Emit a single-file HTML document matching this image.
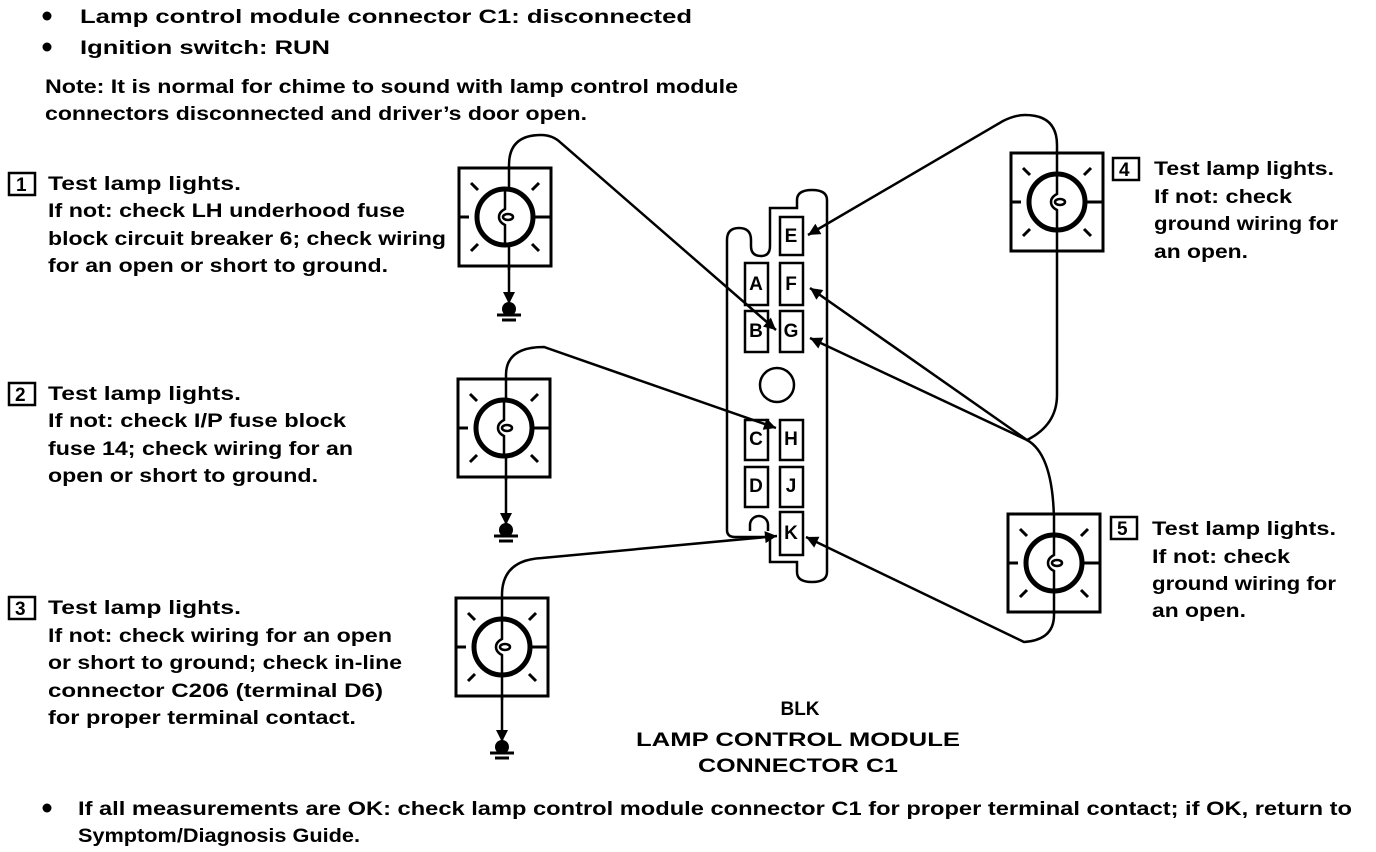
<!DOCTYPE html>
<html><head><meta charset="utf-8"><style>
html,body{margin:0;padding:0;background:#fff;}
svg{display:block;}
text{font-family:"Liberation Sans",sans-serif;font-weight:bold;font-size:19px;fill:#000;}
</style></head><body>
<svg width="1376" height="852" viewBox="0 0 1376 852" xmlns="http://www.w3.org/2000/svg">
<defs>
<marker id="ar" viewBox="0 0 10 10" refX="10" refY="5" markerWidth="16" markerHeight="12" markerUnits="userSpaceOnUse" orient="auto">
<path d="M0,0 L10,5 L0,10 z" fill="#000"/></marker>
<g id="lamp">
<rect x="-46" y="-49" width="92" height="98" fill="#fff" stroke="#000" stroke-width="3"/>
<circle cx="0" cy="0" r="28" fill="none" stroke="#000" stroke-width="5"/>
<path d="M-46,0 H-36 M28,0 H46 M-34,-34 L-27,-27 M34,-34 L27,-27 M-34,34 L-27,27 M34,34 L27,27" stroke="#000" stroke-width="3"/>
<path d="M0,-28 V-8 q-6,3 -6,8 q0,5 6,8 V28" fill="none" stroke="#000" stroke-width="2.5"/>
<ellipse cx="3" cy="0" rx="5" ry="3" fill="none" stroke="#000" stroke-width="2.5"/>
</g>
<g id="gnd">
<circle cx="0" cy="0" r="7" fill="#000"/>
<path d="M-12,6 H12 M-7,11 H7" stroke="#000" stroke-width="3"/>
</g>
</defs>

<circle cx="47" cy="16" r="4.5"/>
<text x="80" y="23" textLength="612" lengthAdjust="spacingAndGlyphs">Lamp control module connector C1: disconnected</text>
<circle cx="47" cy="47" r="4.5"/>
<text x="80" y="54" textLength="250" lengthAdjust="spacingAndGlyphs">Ignition switch: RUN</text>
<text x="45" y="93" textLength="693" lengthAdjust="spacingAndGlyphs">Note: It is normal for chime to sound with lamp control module</text>
<text x="45" y="120" textLength="542" lengthAdjust="spacingAndGlyphs">connectors disconnected and driver’s door open.</text>

<rect x="9" y="173" width="26" height="22" fill="none" stroke="#000" stroke-width="2.5"/>
<text x="16" y="191" font-size="17">1</text>
<text x="48" y="190" textLength="193" lengthAdjust="spacingAndGlyphs">Test lamp lights.</text>
<text x="48" y="217" textLength="357" lengthAdjust="spacingAndGlyphs">If not: check LH underhood fuse</text>
<text x="48" y="245" textLength="398" lengthAdjust="spacingAndGlyphs">block circuit breaker 6; check wiring</text>
<text x="48" y="272" textLength="340" lengthAdjust="spacingAndGlyphs">for an open or short to ground.</text>

<rect x="9" y="383" width="26" height="22" fill="none" stroke="#000" stroke-width="2.5"/>
<text x="15" y="401" font-size="17">2</text>
<text x="48" y="400" textLength="193" lengthAdjust="spacingAndGlyphs">Test lamp lights.</text>
<text x="48" y="427" textLength="298" lengthAdjust="spacingAndGlyphs">If not: check I/P fuse block</text>
<text x="48" y="455" textLength="305" lengthAdjust="spacingAndGlyphs">fuse 14; check wiring for an</text>
<text x="48" y="482" textLength="270" lengthAdjust="spacingAndGlyphs">open or short to ground.</text>

<rect x="9" y="597" width="26" height="22" fill="none" stroke="#000" stroke-width="2.5"/>
<text x="15" y="615" font-size="17">3</text>
<text x="48" y="614" textLength="193" lengthAdjust="spacingAndGlyphs">Test lamp lights.</text>
<text x="48" y="642" textLength="344" lengthAdjust="spacingAndGlyphs">If not: check wiring for an open</text>
<text x="48" y="669" textLength="354" lengthAdjust="spacingAndGlyphs">or short to ground; check in-line</text>
<text x="48" y="697" textLength="335" lengthAdjust="spacingAndGlyphs">connector C206 (terminal D6)</text>
<text x="48" y="724" textLength="308" lengthAdjust="spacingAndGlyphs">for proper terminal contact.</text>

<rect x="1113" y="158" width="26" height="22" fill="none" stroke="#000" stroke-width="2.5"/>
<text x="1119" y="176" font-size="17">4</text>
<text x="1154" y="175" textLength="180" lengthAdjust="spacingAndGlyphs">Test lamp lights.</text>
<text x="1154" y="203" textLength="138" lengthAdjust="spacingAndGlyphs">If not: check</text>
<text x="1154" y="230" textLength="184" lengthAdjust="spacingAndGlyphs">ground wiring for</text>
<text x="1154" y="258" textLength="94" lengthAdjust="spacingAndGlyphs">an open.</text>

<rect x="1111" y="517" width="26" height="22" fill="none" stroke="#000" stroke-width="2.5"/>
<text x="1117" y="535" font-size="17">5</text>
<text x="1152" y="535" textLength="184" lengthAdjust="spacingAndGlyphs">Test lamp lights.</text>
<text x="1152" y="563" textLength="138" lengthAdjust="spacingAndGlyphs">If not: check</text>
<text x="1152" y="590" textLength="184" lengthAdjust="spacingAndGlyphs">ground wiring for</text>
<text x="1152" y="617" textLength="94" lengthAdjust="spacingAndGlyphs">an open.</text>

<path d="M727,530 V240 q0,-12 12,-12 q12,0 12,12 V246 q0,10 10,10 q9,0 9,-10 V208 H797 V200 q0,-10 15,-10 q15,0 15,10 V572 q0,10 -15,10 q-15,0 -15,-10 V562 H770 V537 H735 q-8,0 -8,-7 z" fill="#fff" stroke="#000" stroke-width="2.5"/>
<g fill="#fff" stroke="#000" stroke-width="2.5">
<rect x="780" y="217" width="23" height="38"/>
<rect x="780" y="263" width="23" height="42"/>
<rect x="780" y="311" width="23" height="41"/>
<rect x="745" y="263" width="23" height="42"/>
<rect x="745" y="311" width="23" height="41"/>
<rect x="745" y="420" width="23" height="40"/>
<rect x="780" y="420" width="23" height="40"/>
<rect x="745" y="467" width="23" height="40"/>
<rect x="780" y="467" width="23" height="40"/>
<rect x="780" y="512" width="23" height="43"/>
<circle cx="777" cy="385" r="17"/>
</g>
<path d="M750,531 v-6 a9,9 0 0 1 18,0 v6" fill="none" stroke="#000" stroke-width="2.5"/>
<g font-size="15" text-anchor="middle">
<text x="791" y="242">E</text><text x="791" y="290">F</text><text x="791" y="337">G</text>
<text x="756" y="290">A</text><text x="756" y="337">B</text>
<text x="756" y="445">C</text><text x="791" y="445">H</text>
<text x="756" y="492">D</text><text x="791" y="492">J</text>
<text x="791" y="539">K</text>
</g>

<g fill="none" stroke="#000" stroke-width="2.5">
<path d="M509,217 V165 q0,-30 32,-30 q12,0 20,8 L776,330" marker-end="url(#ar)"/>
<path d="M509,245 V304" marker-end="url(#ar)"/>
<path d="M506,428 V375 q0,-28 38,-28 L776,428" marker-end="url(#ar)"/>
<path d="M506,456 V525" marker-end="url(#ar)"/>
<path d="M502,647 V595 q0,-35 40,-37 L777,536" marker-end="url(#ar)"/>
<path d="M502,675 V742" marker-end="url(#ar)"/>
<path d="M1057,203 V145 q0,-30 -32,-30 q-10,0 -22,6 L808,235" marker-end="url(#ar)"/>
<path d="M1057,230 V395 q0,30 -30,45 L810,288" marker-end="url(#ar)"/>
<path d="M1027,440 L810,338" marker-end="url(#ar)"/>
<path d="M1027,440 q27,15 27,85 V563"/>
<path d="M1054,590 V615 q0,25 -30,27 L806,537" marker-end="url(#ar)"/>
</g>

<use href="#lamp" x="505" y="217"/>
<use href="#lamp" x="504" y="428"/>
<use href="#lamp" x="502" y="647"/>
<use href="#lamp" x="1057" y="202"/>
<use href="#lamp" x="1054" y="563"/>
<path d="M509,168 V189 M506,378 V400 M502,597 V619 M1057,153 V174 M1054,515 V535" stroke="#000" stroke-width="2.5"/>
<path d="M509,245 V270 M506,456 V480 M502,675 V700 M1057,230 V252 M1054,590 V614" stroke="#000" stroke-width="2.5"/>

<use href="#gnd" x="509" y="309"/>
<use href="#gnd" x="506" y="530"/>
<use href="#gnd" x="502" y="747"/>

<text x="800" y="715" font-size="14" text-anchor="middle">BLK</text>
<text x="636" y="746" textLength="324" lengthAdjust="spacingAndGlyphs" font-size="20">LAMP CONTROL MODULE</text>
<text x="698" y="772" textLength="200" lengthAdjust="spacingAndGlyphs" font-size="20">CONNECTOR C1</text>

<circle cx="47" cy="808" r="4.5"/>
<text x="78" y="815" textLength="1274" lengthAdjust="spacingAndGlyphs">If all measurements are OK: check lamp control module connector C1 for proper terminal contact; if OK, return to</text>
<text x="78" y="842" textLength="282" lengthAdjust="spacingAndGlyphs">Symptom/Diagnosis Guide.</text>
</svg>
</body></html>
